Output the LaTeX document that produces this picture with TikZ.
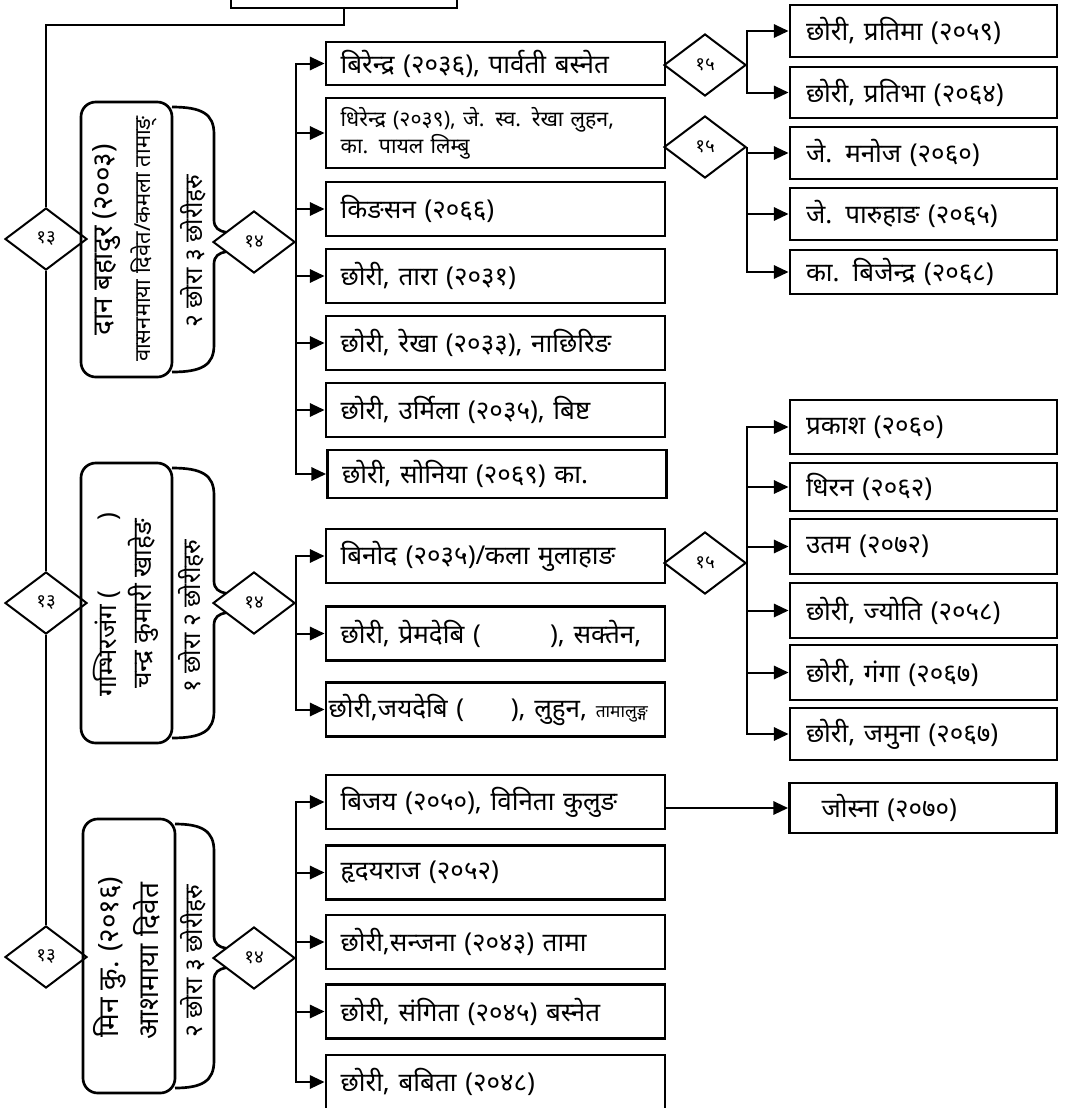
\documentclass[tikz,border=0pt]{standalone}
\usepackage{fontspec}
\setmainfont[Script=Devanagari]{Noto Sans}
\usetikzlibrary{shapes.geometric,arrows.meta}
\newcommand\mybrace[5]{%
  \draw[brc] (#1,#2+5) .. controls (#5-12,#2+5) and (#5,#2+12) .. (#5,#2+32) -- (#5,#4-22) .. controls (#5,#4-14) and (#5+5,#4-11) .. (#5+12,#4-9.7);
  \draw[brc] (#5+12,#4+9.7) .. controls (#5+5,#4+11) and (#5,#4+14) .. (#5,#4+22) -- (#5,#3-32) .. controls (#5,#3-12) and (#5-12,#3-5) .. (#1,#3-5);
}
\begin{document}
\begin{tikzpicture}[x=0.75pt,y=-0.75pt,
  conn/.style={line width=1.5pt},
  arr/.style={line width=1.5pt,-{Triangle[length=11pt,width=10pt]}},
  cbox/.style={draw,line width=2.2pt,inner xsep=11pt,inner ysep=0pt,align=left,text width=232.25pt,minimum width=254.25pt,font=\fontsize{19.5}{24}\selectfont},
  rbox/.style={draw,line width=2.2pt,inner xsep=12pt,inner ysep=0pt,align=left,text width=176.25pt,minimum width=200.25pt,font=\fontsize{19.5}{24}\selectfont},
  dia/.style={draw,diamond,line width=1.5pt,inner sep=0pt,minimum width=61.5pt,minimum height=46.5pt,font=\fontsize{14}{15}\selectfont},
  pbox/.style={draw,line width=2pt,rounded corners=11pt},
  brc/.style={line width=2pt,line join=round},
  vt/.style={rotate=90,inner sep=0pt}
]
\useasboundingbox (0,0) rectangle (1065,1108);
\clip (0,0) rectangle (1065,1108);

% top (cut) box
\node[draw,line width=2.2pt,minimum width=169.5pt,minimum height=30pt] (top) at (344,-12) {};

% person boxes
\node[pbox,minimum width=68.25pt,minimum height=206.25pt] (p1) at (126.5,239.5) {};
\node[pbox,minimum width=68.25pt,minimum height=210pt] (p2) at (126.5,603) {};
\node[pbox,minimum width=69pt,minimum height=205.5pt] (p3) at (129,956) {};

\node[vt,font=\fontsize{21}{24}\selectfont] (p1a) at (107,240) {दान बहादुर (२००३)};
\node[vt,font=\fontsize{16.5}{18}\selectfont] (p1b) at (144,239) {वासनमाया दिवेत/कमला तामाङ्};
\node[vt,font=\fontsize{18.5}{20}\selectfont] (p1c) at (193,251) {२ छोरा ३ छोरीहरु};

\node[vt,font=\fontsize{19.5}{22}\selectfont] (p2a) at (107,605) {गम्भिरजंग (\hspace{52pt})};
\node[vt,font=\fontsize{19.5}{22}\selectfont] (p2b) at (143,604) {चन्द्र कुमारी खाहेङ};
\node[vt,font=\fontsize{18.5}{20}\selectfont] (p2c) at (191,616) {१ छोरा २ छोरीहरु};

\node[vt,font=\fontsize{21}{24}\selectfont] (p3a) at (110,957) {मिन कु. (२०१६)};
\node[vt,font=\fontsize{21}{24}\selectfont] (p3b) at (147,961) {आशमाया दिवेत};
\node[vt,font=\fontsize{18.5}{20}\selectfont] (p3c) at (193,961) {२ छोरा ३ छोरीहरु};

% braces
\mybrace{172}{102}{377}{242}{214}
\mybrace{172}{463}{743}{603}{214}
\mybrace{175}{819}{1093}{958}{214}

% diamonds
\node[dia] (d13a) at (46,239) {१३};
\node[dia] (d13b) at (46,603) {१३};
\node[dia] (d13c) at (46,957) {१३};
\node[dia] (d14a) at (254,242) {१४};
\node[dia] (d14b) at (254,603) {१४};
\node[dia] (d14c) at (254,958) {१४};
\node[dia] (d15a) at (705,65) {१५};
\node[dia] (d15b) at (705,147) {१५};
\node[dia] (d15c) at (705,563) {१५};

% column 2 boxes
\node[cbox,minimum height=32.25pt] (g1c1) at (495.5,63.5) {बिरेन्द्र (२०३६), पार्वती बस्नेत};
\node[cbox,minimum height=52.5pt,font=\fontsize{16}{20}\selectfont] (g1c2) at (495.5,133) {धिरेन्द्र (२०३९), जे. स्व. रेखा लुहन,\\का. पायल लिम्बु};
\node[cbox,minimum height=40.5pt] (g1c3) at (495.5,209) {किङसन (२०६६)};
\node[cbox,minimum height=40.5pt] (g1c4) at (495.5,276) {छोरी, तारा (२०३१)};
\node[cbox,minimum height=40.5pt] (g1c5) at (495.5,343) {छोरी, रेखा (२०३३), नाछिरिङ};
\node[cbox,minimum height=40.5pt] (g1c6) at (495.5,410) {छोरी, उर्मिला (२०३५), बिष्ट};
\node[cbox,minimum height=36pt] (g1c7) at (497,474) {छोरी, सोनिया (२०६९) का.};

\node[cbox,minimum height=40.5pt] (g2c1) at (495.5,556) {बिनोद (२०३५)/कला मुलाहाङ};
\node[cbox,minimum height=40pt] (g2c2) at (495.5,633.5) {छोरी, प्रेमदेबि (\hspace{52pt}), सक्तेन,};
\node[cbox,minimum height=40pt] (g2c3) at (495.5,709.5) {\hspace*{-9pt}छोरी,जयदेबि (\hspace{35pt}), लुहुन, {\fontsize{13}{15}\selectfont तामालुङ्ग}};

\node[cbox,minimum height=40.5pt] (g3c1) at (495.5,802) {बिजय (२०५०), विनिता कुलुङ};
\node[cbox,minimum height=40pt] (g3c2) at (495.5,872.5) {हृदयराज (२०५२)};
\node[cbox,minimum height=40.5pt] (g3c3) at (495.5,942) {छोरी,सन्जना (२०४३) तामा};
\node[cbox,minimum height=40pt] (g3c4) at (495.5,1011.5) {छोरी, संगिता (२०४५) बस्नेत};
\node[cbox,minimum height=40.5pt] (g3c5) at (495.5,1082) {छोरी, बबिता (२०४८)};

% column 3 boxes
\node[rbox,minimum height=39pt] (r1) at (923.5,31) {छोरी, प्रतिमा (२०५९)};
\node[rbox,minimum height=38.25pt] (r2) at (923.5,92.5) {छोरी, प्रतिभा (२०६४)};
\node[rbox,minimum height=39pt] (r3) at (923.5,153) {जे. मनोज (२०६०)};
\node[rbox,minimum height=39pt] (r4) at (923.5,214) {जे. पारुहाङ (२०६५)};
\node[rbox,minimum height=33pt] (r5) at (923.5,272) {का. बिजेन्द्र (२०६८)};
\node[rbox,minimum height=40.5pt] (r6) at (923.5,427) {प्रकाश (२०६०)};
\node[rbox,minimum height=36pt] (r7) at (923.5,487) {धिरन (२०६२)};
\node[rbox,minimum height=41.25pt] (r8) at (923.5,546.5) {उतम (२०७२)};
\node[rbox,minimum height=41.25pt] (r9) at (923.5,610.5) {छोरी, ज्योति (२०५८)};
\node[rbox,minimum height=41.25pt] (r10) at (923.5,672.5) {छोरी, गंगा (२०६७)};
\node[rbox,minimum height=39pt] (r11) at (923.5,734) {छोरी, जमुना (२०६७)};
\node[rbox,minimum height=37.5pt] (r12) at (923,808) {\hspace*{12pt}जोस्ना (२०७०)};

% main line
\draw[conn] (top.south) -- ++(0,16) -| (d13a.north);
\draw[conn] (d13a.south) -- (d13b.north);
\draw[conn] (d13b.south) -- (d13c.north);

% group 1
\foreach \c in {g1c1,g1c2,g1c3,g1c4,g1c5,g1c6,g1c7}{\draw[arr] (d14a.east) |- (\c.west);}
\foreach \c in {r1,r2}{\draw[arr] (d15a.east) |- (\c.west);}
\foreach \c in {r3,r4,r5}{\draw[arr] (d15b.east) |- (\c.west);}
% group 2
\foreach \c in {g2c1,g2c2,g2c3}{\draw[arr] (d14b.east) |- (\c.west);}
\foreach \c in {r6,r7,r8,r9,r10,r11}{\draw[arr] (d15c.east) |- (\c.west);}
% group 3
\foreach \c in {g3c1,g3c2,g3c3,g3c4,g3c5}{\draw[arr] (d14c.east) |- (\c.west);}
\draw[arr] (g3c1.east |- r12.west) -- (r12.west);
\end{tikzpicture}
\end{document}
